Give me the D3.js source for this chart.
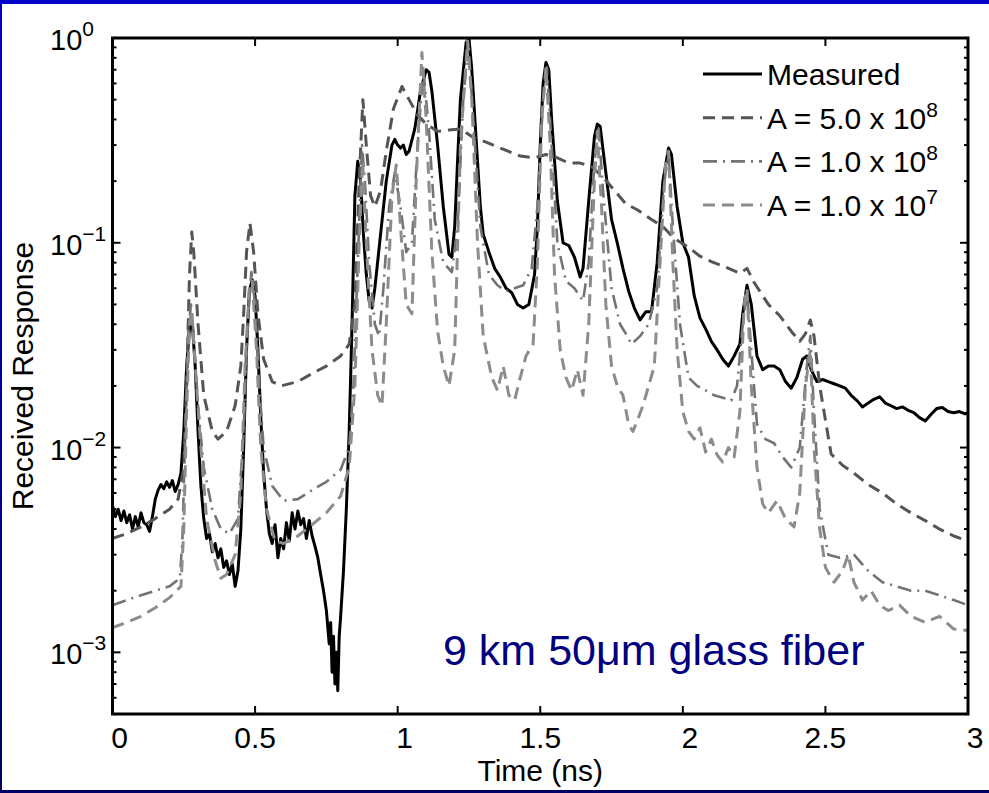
<!DOCTYPE html>
<html>
<head>
<meta charset="utf-8">
<script src="https://cdn.jsdelivr.net/npm/d3@7"></script>
<style>
  body { margin: 0; background: #fff; }
  text { font-family: "Liberation Sans", Arial, Helvetica, sans-serif; }
</style>
</head>
<body>
<svg id="chart" width="989" height="793"></svg>
<script>
// time (ns), received response
const measured = [
  [0.00, 5.2e-3], [0.01, 4.6e-3], [0.02, 5.0e-3], [0.03, 4.4e-3], [0.04, 4.9e-3], [0.05, 4.3e-3],
  [0.06, 4.7e-3], [0.07, 4.0e-3], [0.08, 4.6e-3], [0.09, 4.1e-3], [0.10, 4.8e-3], [0.11, 4.3e-3],
  [0.12, 4.2e-3], [0.13, 3.9e-3], [0.14, 4.6e-3], [0.15, 5.6e-3], [0.16, 6.2e-3], [0.17, 6.6e-3],
  [0.18, 6.3e-3], [0.19, 6.8e-3], [0.20, 6.4e-3], [0.21, 6.9e-3], [0.22, 6.1e-3], [0.23, 6.6e-3],
  [0.24, 7.5e-3], [0.25, 0.012], [0.26, 0.025], [0.27, 0.038], [0.28, 0.040], [0.29, 0.025],
  [0.30, 0.012], [0.31, 6.5e-3], [0.32, 4.5e-3], [0.33, 3.6e-3], [0.34, 3.8e-3], [0.35, 3.1e-3],
  [0.36, 3.4e-3], [0.37, 2.9e-3], [0.38, 3.2e-3], [0.39, 2.6e-3], [0.40, 2.8e-3], [0.41, 2.4e-3],
  [0.42, 2.7e-3], [0.43, 2.1e-3], [0.44, 2.5e-3], [0.45, 4.0e-3], [0.46, 0.010], [0.47, 0.030],
  [0.48, 0.058], [0.49, 0.066], [0.50, 0.055], [0.51, 0.030], [0.52, 0.014], [0.53, 7.5e-3],
  [0.54, 5.0e-3], [0.55, 3.8e-3], [0.56, 3.4e-3], [0.57, 4.2e-3], [0.58, 2.9e-3], [0.59, 3.6e-3],
  [0.60, 3.2e-3], [0.61, 4.3e-3], [0.62, 3.5e-3], [0.63, 4.8e-3], [0.64, 4.0e-3], [0.65, 4.9e-3],
  [0.66, 4.2e-3], [0.67, 4.5e-3], [0.68, 3.6e-3], [0.69, 4.4e-3], [0.70, 3.7e-3], [0.71, 3.3e-3],
  [0.72, 2.9e-3], [0.73, 2.4e-3], [0.74, 2.0e-3], [0.75, 1.6e-3], [0.76, 1.1e-3], [0.765, 1.4e-3],
  [0.77, 0.8e-3], [0.775, 1.2e-3], [0.78, 0.7e-3], [0.785, 1.0e-3], [0.79, 0.65e-3], [0.795, 1.2e-3],
  [0.80, 1.5e-3], [0.81, 2.5e-3], [0.82, 5.0e-3], [0.83, 0.012], [0.84, 0.04], [0.85, 0.17],
  [0.86, 0.25], [0.87, 0.2], [0.88, 0.11], [0.89, 0.07], [0.90, 0.052], [0.91, 0.048], [0.92, 0.06],
  [0.94, 0.11], [0.96, 0.2], [0.98, 0.3], [0.99, 0.32], [1.00, 0.30], [1.01, 0.29], [1.02, 0.30],
  [1.03, 0.27], [1.04, 0.28], [1.06, 0.36], [1.08, 0.55], [1.10, 0.70], [1.11, 0.68], [1.12, 0.55],
  [1.14, 0.30], [1.16, 0.15], [1.18, 0.088], [1.19, 0.085], [1.20, 0.12], [1.21, 0.25], [1.22, 0.5],
  [1.24, 0.95], [1.25, 1.0], [1.26, 0.7], [1.28, 0.25], [1.29, 0.15], [1.30, 0.11], [1.32, 0.09],
  [1.34, 0.075], [1.36, 0.068], [1.38, 0.06], [1.40, 0.057], [1.42, 0.05], [1.44, 0.048], [1.46, 0.05],
  [1.48, 0.07], [1.49, 0.12], [1.50, 0.3], [1.51, 0.6], [1.52, 0.76], [1.53, 0.7], [1.54, 0.4],
  [1.56, 0.16], [1.58, 0.10], [1.60, 0.097], [1.62, 0.085], [1.64, 0.068], [1.65, 0.075], [1.67, 0.16],
  [1.69, 0.33], [1.70, 0.38], [1.71, 0.37], [1.73, 0.22], [1.75, 0.13], [1.77, 0.10], [1.79, 0.075],
  [1.81, 0.058], [1.83, 0.048], [1.85, 0.042], [1.87, 0.046], [1.89, 0.046], [1.91, 0.08], [1.93, 0.2],
  [1.95, 0.29], [1.96, 0.27], [1.98, 0.15], [2.00, 0.10], [2.02, 0.085], [2.04, 0.055], [2.06, 0.043],
  [2.08, 0.038], [2.10, 0.033], [2.12, 0.030], [2.14, 0.027], [2.16, 0.025], [2.18, 0.028], [2.20, 0.032],
  [2.21, 0.045], [2.225, 0.062], [2.24, 0.05], [2.26, 0.028], [2.28, 0.024], [2.30, 0.025], [2.32, 0.025],
  [2.34, 0.024], [2.36, 0.021], [2.38, 0.0195], [2.40, 0.022], [2.42, 0.027], [2.435, 0.028], [2.45, 0.024],
  [2.47, 0.021], [2.49, 0.0215], [2.51, 0.021], [2.53, 0.0205], [2.55, 0.02], [2.57, 0.0195], [2.59, 0.018],
  [2.61, 0.017], [2.63, 0.0158], [2.65, 0.0165], [2.67, 0.0172], [2.69, 0.0177], [2.71, 0.0165], [2.73, 0.016],
  [2.75, 0.0155], [2.77, 0.0158], [2.79, 0.0152], [2.81, 0.0148], [2.83, 0.014], [2.85, 0.0135], [2.87, 0.0145],
  [2.89, 0.0155], [2.91, 0.0157], [2.93, 0.015], [2.95, 0.0148], [2.97, 0.015], [2.99, 0.0146], [3.00, 0.0148]
];

const model5e8 = [
  [0, 3.6e-3], [0.05, 3.8e-3], [0.1, 4.1e-3], [0.15, 4.5e-3], [0.2, 5.0e-3], [0.23, 5.6e-3], [0.25, 8e-3],
  [0.26, 0.02], [0.27, 0.07], [0.278, 0.113], [0.285, 0.09], [0.30, 0.04], [0.32, 0.018], [0.35, 0.012],
  [0.37, 0.011], [0.40, 0.012], [0.43, 0.016], [0.45, 0.025], [0.46, 0.045], [0.47, 0.09], [0.482, 0.125],
  [0.495, 0.09], [0.51, 0.045], [0.53, 0.027], [0.56, 0.021], [0.59, 0.02], [0.65, 0.021], [0.70, 0.023],
  [0.75, 0.025], [0.80, 0.028], [0.83, 0.032], [0.85, 0.05], [0.865, 0.2], [0.878, 0.5], [0.89, 0.3],
  [0.905, 0.17], [0.92, 0.15], [0.94, 0.18], [0.96, 0.28], [0.985, 0.45], [1.015, 0.58], [1.04, 0.5],
  [1.07, 0.42], [1.10, 0.38], [1.14, 0.35], [1.18, 0.355], [1.22, 0.36], [1.26, 0.33], [1.31, 0.31],
  [1.36, 0.29], [1.43, 0.265], [1.48, 0.26], [1.52, 0.27], [1.56, 0.26], [1.60, 0.245], [1.64, 0.245],
  [1.68, 0.235], [1.72, 0.21], [1.76, 0.18], [1.80, 0.155], [1.84, 0.145], [1.89, 0.13], [1.93, 0.12],
  [1.97, 0.105], [2.02, 0.095], [2.06, 0.086], [2.10, 0.081], [2.15, 0.076], [2.20, 0.071], [2.225, 0.075],
  [2.25, 0.064], [2.30, 0.05], [2.34, 0.044], [2.38, 0.037], [2.41, 0.033], [2.43, 0.036], [2.447, 0.042],
  [2.46, 0.035], [2.48, 0.02], [2.52, 0.0093], [2.56, 0.0082], [2.60, 0.0075], [2.65, 0.0066], [2.70, 0.006],
  [2.75, 0.0053], [2.80, 0.0048], [2.85, 0.0044], [2.90, 0.004], [2.95, 0.0037], [3.0, 0.0035]
];

const model1e8 = [
  [0, 1.7e-3], [0.05, 1.8e-3], [0.1, 1.9e-3], [0.15, 2.0e-3], [0.2, 2.1e-3], [0.236, 2.3e-3], [0.245, 3.5e-3],
  [0.255, 0.012], [0.265, 0.035], [0.275, 0.05], [0.285, 0.035], [0.30, 0.016], [0.32, 8e-3], [0.35, 5e-3],
  [0.38, 4e-3], [0.41, 3.8e-3], [0.44, 4.5e-3], [0.46, 0.012], [0.475, 0.045], [0.487, 0.072], [0.50, 0.05],
  [0.515, 0.02], [0.53, 0.01], [0.56, 6.5e-3], [0.60, 5.5e-3], [0.65, 5.6e-3], [0.70, 6.2e-3], [0.75, 6.8e-3],
  [0.80, 7.8e-3], [0.83, 0.01], [0.845, 0.02], [0.86, 0.08], [0.875, 0.3], [0.885, 0.2], [0.90, 0.08],
  [0.92, 0.04], [0.935, 0.035], [0.95, 0.06], [0.97, 0.15], [0.99, 0.22], [1.01, 0.15], [1.03, 0.09],
  [1.05, 0.1], [1.07, 0.3], [1.09, 0.7], [1.11, 0.35], [1.13, 0.13], [1.16, 0.08], [1.19, 0.072],
  [1.21, 0.12], [1.23, 0.5], [1.248, 0.95], [1.265, 0.4], [1.29, 0.12], [1.32, 0.07], [1.35, 0.062],
  [1.38, 0.058], [1.41, 0.06], [1.44, 0.062], [1.47, 0.075], [1.49, 0.15], [1.51, 0.5], [1.523, 0.72],
  [1.54, 0.3], [1.56, 0.1], [1.59, 0.065], [1.62, 0.06], [1.65, 0.052], [1.67, 0.08], [1.69, 0.25],
  [1.705, 0.36], [1.72, 0.18], [1.75, 0.06], [1.78, 0.04], [1.80, 0.036], [1.82, 0.032], [1.85, 0.035],
  [1.88, 0.04], [1.91, 0.06], [1.935, 0.2], [1.95, 0.27], [1.965, 0.12], [1.99, 0.04], [2.02, 0.022],
  [2.05, 0.02], [2.08, 0.019], [2.11, 0.018], [2.14, 0.0175], [2.17, 0.017], [2.19, 0.02], [2.21, 0.04],
  [2.225, 0.058], [2.24, 0.03], [2.26, 0.013], [2.29, 0.011], [2.32, 0.0105], [2.35, 0.009], [2.38, 0.008],
  [2.41, 0.01], [2.435, 0.025], [2.447, 0.035], [2.46, 0.015], [2.48, 0.005], [2.51, 0.003], [2.55, 0.0029],
  [2.60, 0.003], [2.65, 0.0025], [2.70, 0.0022], [2.75, 0.0021], [2.80, 0.002], [2.85, 0.002], [2.90, 0.0019],
  [2.95, 0.0018], [3.0, 0.0017]
];

const model1e7 = [
  [0, 1.32e-3], [0.05, 1.4e-3], [0.1, 1.5e-3], [0.15, 1.65e-3], [0.2, 1.85e-3], [0.24, 2.1e-3], [0.25, 4e-3],
  [0.26, 0.015], [0.27, 0.04], [0.278, 0.047], [0.29, 0.025], [0.31, 0.01], [0.33, 4.5e-3], [0.36, 2.8e-3],
  [0.38, 2.3e-3], [0.40, 2.4e-3], [0.43, 3e-3], [0.45, 6e-3], [0.465, 0.025], [0.48, 0.06], [0.49, 0.065],
  [0.505, 0.03], [0.52, 0.01], [0.54, 5e-3], [0.57, 3.5e-3], [0.60, 3.4e-3], [0.65, 3.7e-3], [0.70, 4.2e-3],
  [0.75, 4.8e-3], [0.80, 5.8e-3], [0.83, 8e-3], [0.85, 0.02], [0.865, 0.1], [0.877, 0.25], [0.89, 0.1],
  [0.91, 0.03], [0.93, 0.018], [0.945, 0.016], [0.96, 0.04], [0.98, 0.17], [0.995, 0.24], [1.01, 0.12],
  [1.03, 0.05], [1.05, 0.045], [1.065, 0.2], [1.085, 0.85], [1.10, 0.4], [1.12, 0.09], [1.14, 0.037],
  [1.16, 0.025], [1.18, 0.02], [1.20, 0.03], [1.22, 0.3], [1.245, 0.97], [1.26, 0.5], [1.28, 0.1],
  [1.30, 0.035], [1.33, 0.022], [1.35, 0.019], [1.37, 0.025], [1.39, 0.018], [1.41, 0.017], [1.43, 0.022],
  [1.45, 0.028], [1.475, 0.032], [1.49, 0.08], [1.505, 0.4], [1.52, 0.72], [1.535, 0.3], [1.55, 0.07],
  [1.57, 0.03], [1.59, 0.022], [1.61, 0.019], [1.63, 0.024], [1.65, 0.018], [1.67, 0.04], [1.69, 0.2],
  [1.70, 0.35], [1.715, 0.15], [1.73, 0.05], [1.75, 0.025], [1.77, 0.02], [1.79, 0.018], [1.81, 0.013],
  [1.825, 0.012], [1.84, 0.0135], [1.86, 0.016], [1.88, 0.02], [1.90, 0.025], [1.92, 0.08], [1.94, 0.25],
  [1.95, 0.28], [1.965, 0.08], [1.98, 0.03], [2.00, 0.015], [2.02, 0.012], [2.04, 0.011], [2.06, 0.0125],
  [2.08, 0.0095], [2.10, 0.011], [2.12, 0.0092], [2.14, 0.0085], [2.16, 0.01], [2.18, 0.009], [2.20, 0.015],
  [2.215, 0.05], [2.225, 0.06], [2.24, 0.02], [2.26, 0.008], [2.28, 0.0053], [2.30, 0.0048], [2.33, 0.0055],
  [2.36, 0.0045], [2.39, 0.0041], [2.41, 0.006], [2.43, 0.02], [2.447, 0.03], [2.46, 0.01], [2.48, 0.004],
  [2.50, 0.0026], [2.53, 0.0022], [2.56, 0.0025], [2.58, 0.003], [2.60, 0.0022], [2.63, 0.0018], [2.66, 0.002],
  [2.69, 0.0017], [2.72, 0.0016], [2.76, 0.0017], [2.80, 0.0015], [2.85, 0.0014], [2.90, 0.0015], [2.95, 0.0013],
  [3.0, 0.00128]
];

const xTicks = [0, 0.5, 1, 1.5, 2, 2.5, 3];
const xTickLabels = ["0", "0.5", "1", "1.5", "2", "2.5", "3"];
const yTicks = [1e-3, 1e-2, 1e-1, 1];
const yTickExps = ["\u22123", "\u22122", "\u22121", "0"];
const legendLabels = [
  { base: "Measured", sup: "" },
  { base: "A = 5.0 x 10", sup: "8" },
  { base: "A = 1.0 x 10", sup: "8" },
  { base: "A = 1.0 x 10", sup: "7" }
];

const series = [
  { data: measured, color: "#000", width: 3, dash: null },
  { data: model5e8, color: "#555", width: 3, dash: "12,7" },
  { data: model1e8, color: "#737373", width: 2.6, dash: "14,6,2,6" },
  { data: model1e7, color: "#8c8c8c", width: 3, dash: "12,7" }
];

const svg = d3.select("#chart");
const plotL = 112.5, plotR = 968, plotT = 38, plotB = 714;

const x = d3.scaleLinear().domain([0, 3]).range([plotL, plotR]);
const y = d3.scaleLog().domain([5e-4, 1]).range([plotB, plotT]);

// page frame
const grad = svg.append("defs").append("linearGradient")
  .attr("id", "edge").attr("x1", 0).attr("x2", 0).attr("y1", 0).attr("y2", 1);
grad.append("stop").attr("offset", "0%").attr("stop-color", "#0000c8");
grad.append("stop").attr("offset", "100%").attr("stop-color", "#000066");
svg.append("rect").attr("x", 0).attr("y", 0).attr("width", 989).attr("height", 4).attr("fill", "#0000c8");
svg.append("rect").attr("x", 0).attr("y", 0).attr("width", 2).attr("height", 793).attr("fill", "url(#edge)");
svg.append("rect").attr("x", 0).attr("y", 790).attr("width", 989).attr("height", 3).attr("fill", "#000066");

svg.append("clipPath").attr("id", "plotclip")
  .append("rect").attr("x", plotL).attr("y", plotT).attr("width", plotR - plotL).attr("height", plotB - plotT);

const line = d3.line().x(d => x(d[0])).y(d => y(d[1]));

const lines = svg.append("g").attr("clip-path", "url(#plotclip)");
series.forEach(s => {
  lines.append("path")
    .attr("d", line(s.data))
    .attr("fill", "none")
    .attr("stroke", s.color)
    .attr("stroke-width", s.width)
    .attr("stroke-linejoin", "round")
    .attr("stroke-dasharray", s.dash);
});

// ticks (inside, both sides)
let minorY = [];
[-4, -3, -2, -1].forEach(e => {
  for (let m = 2; m <= 9; m++) {
    const v = m * Math.pow(10, e);
    if (v >= 5e-4 && v < 1) minorY.push(v);
  }
});
const axes = svg.append("g").attr("stroke", "#000").attr("stroke-width", 2);
xTicks.forEach(t => {
  axes.append("line").attr("x1", x(t)).attr("x2", x(t)).attr("y1", plotB).attr("y2", plotB - 8);
  axes.append("line").attr("x1", x(t)).attr("x2", x(t)).attr("y1", plotT).attr("y2", plotT + 8);
});
yTicks.forEach(t => {
  axes.append("line").attr("x1", plotL).attr("x2", plotL + 8).attr("y1", y(t)).attr("y2", y(t));
  axes.append("line").attr("x1", plotR).attr("x2", plotR - 8).attr("y1", y(t)).attr("y2", y(t));
});
minorY.forEach(t => {
  axes.append("line").attr("x1", plotL).attr("x2", plotL + 4).attr("y1", y(t)).attr("y2", y(t));
  axes.append("line").attr("x1", plotR).attr("x2", plotR - 4).attr("y1", y(t)).attr("y2", y(t));
});
svg.append("rect")
  .attr("x", plotL).attr("y", plotT).attr("width", plotR - plotL).attr("height", plotB - plotT)
  .attr("fill", "none").attr("stroke", "#000").attr("stroke-width", 3);

// tick labels
xTicks.forEach((t, i) => {
  const lbl = xTickLabels[i];
  svg.append("text")
    .attr("x", x(t) + (lbl.length === 1 ? 7 : 0))
    .attr("y", 748)
    .attr("text-anchor", "middle")
    .attr("font-size", 30)
    .text(lbl);
});
yTicks.forEach((t, i) => {
  const txt = svg.append("text")
    .attr("x", 50)
    .attr("y", y(t) + 12)
    .attr("font-size", 29)
    .text("10");
  txt.append("tspan").attr("dy", -14).attr("font-size", 21).text(yTickExps[i]);
});

// axis titles
svg.append("text")
  .attr("x", (plotL + plotR) / 2).attr("y", 781)
  .attr("text-anchor", "middle").attr("font-size", 30)
  .text("Time (ns)");
svg.append("text")
  .attr("transform", `translate(33,${(plotT + plotB) / 2}) rotate(-90)`)
  .attr("text-anchor", "middle").attr("font-size", 30)
  .text("Received Response");

// legend
const legend = svg.append("g");
legendLabels.forEach((l, i) => {
  const ry = 74 + i * 43.7;
  const s = series[i];
  legend.append("line")
    .attr("x1", 703).attr("x2", 762).attr("y1", ry).attr("y2", ry)
    .attr("stroke", s.color).attr("stroke-width", s.width)
    .attr("stroke-dasharray", s.dash);
  const t = legend.append("text")
    .attr("x", 767).attr("y", ry + 11)
    .attr("font-size", 30)
    .text(l.base);
  if (l.sup) t.append("tspan").attr("dy", -12).attr("font-size", 21).text(l.sup);
});

// annotation
svg.append("text")
  .attr("x", 443).attr("y", 665)
  .attr("font-size", 43)
  .attr("fill", "#000080")
  .text("9 km 50\u03bcm glass fiber");
</script>
</body>
</html>
